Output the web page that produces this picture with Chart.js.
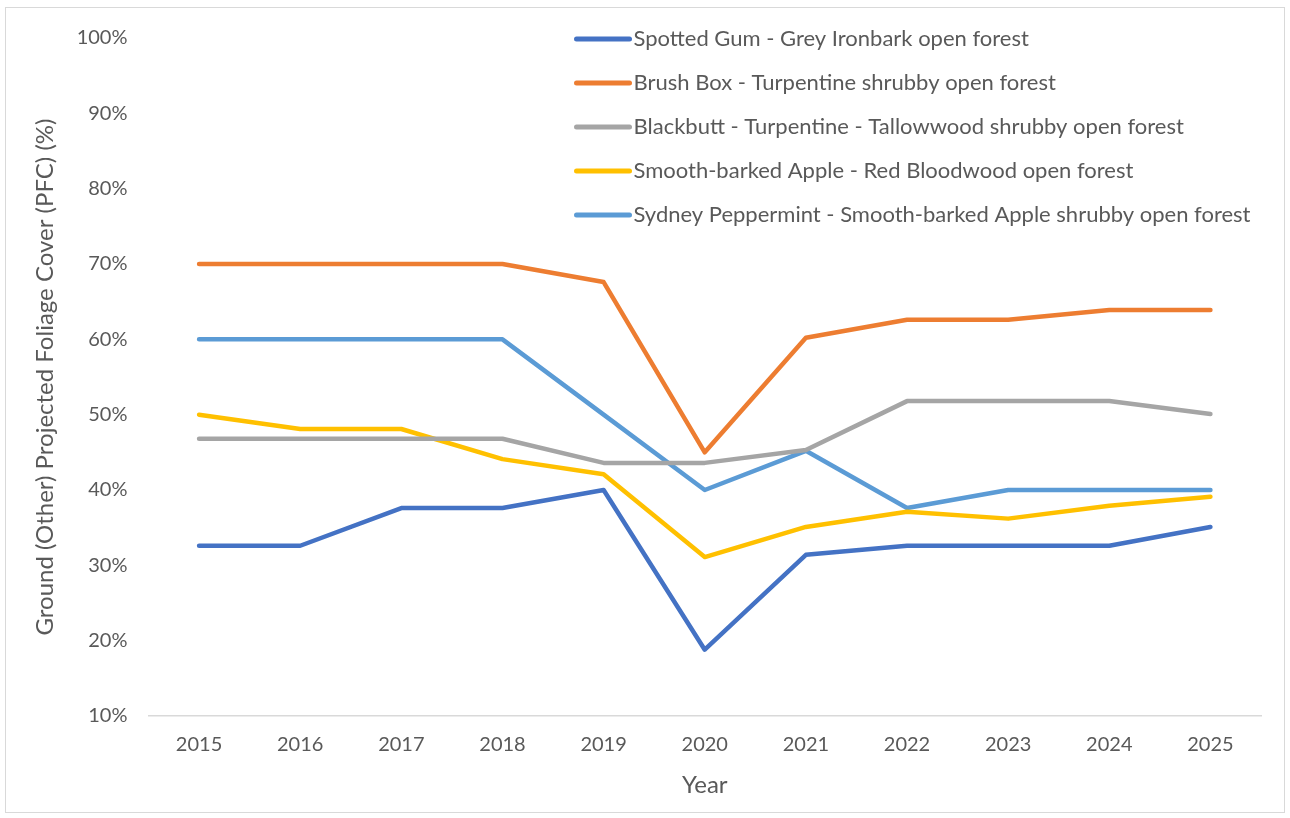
<!DOCTYPE html>
<html>
<head>
<meta charset="utf-8">
<script src="https://cdn.jsdelivr.net/npm/chart.js@4.4.1/dist/chart.umd.min.js"></script>
<style>
  html, body { margin: 0; padding: 0; background: #fff; }
  #wrap { position: relative; width: 1290px; height: 818px; }
  #frame { position: absolute; left: 5px; top: 7px; width: 1278px; height: 804px; border: 1px solid #d9d9d9; pointer-events: none; }
</style>
</head>
<body>
<div id="wrap">
  <canvas id="pfcChart" width="1290" height="818"></canvas>
  <div id="frame"></div>
</div>
<script>
const years = ["2015", "2016", "2017", "2018", "2019", "2020", "2021", "2022", "2023", "2024", "2025"];

const spottedGum = [32.6, 32.6, 37.6, 37.6, 40.0, 18.8, 31.4, 32.6, 32.6, 32.6, 35.1];
const brushBox = [70.0, 70.0, 70.0, 70.0, 67.6, 45.0, 60.2, 62.6, 62.6, 63.9, 63.9];
const blackbutt = [46.8, 46.8, 46.8, 46.8, 43.6, 43.6, 45.3, 51.8, 51.8, 51.8, 50.1];
const smoothBarked = [50.0, 48.1, 48.1, 44.1, 42.1, 31.1, 35.1, 37.1, 36.2, 37.9, 39.1];
const sydneyPeppermint = [60.0, 60.0, 60.0, 60.0, 50.0, 40.0, 45.2, 37.6, 40.0, 40.0, 40.0];

const seriesNames = [
  "Spotted Gum - Grey Ironbark open forest",
  "Brush Box - Turpentine shrubby open forest",
  "Blackbutt - Turpentine - Tallowwood shrubby open forest",
  "Smooth-barked Apple - Red Bloodwood open forest",
  "Sydney Peppermint - Smooth-barked Apple shrubby open forest",
];
const seriesColors = ["#4472C4", "#ED7D31", "#A5A5A5", "#FFC000", "#5B9BD5"];

const fontFamily = "Lato, 'Open Sans', sans-serif";
const textColor = "#595959";

// legend drawn inside the plot area, top right, like the Excel original
const insideLegend = {
  id: "insideLegend",
  afterDraw(chart, args, opts) {
    const { ctx, chartArea } = chart;
    ctx.save();
    ctx.font = opts.fontSize + "px " + fontFamily;
    ctx.fillStyle = textColor;
    ctx.textBaseline = "middle";
    ctx.textAlign = "left";
    ctx.lineCap = "round";
    chart.data.datasets.forEach((ds, i) => {
      const y = chartArea.top + opts.top + i * opts.rowGap;
      const x0 = chartArea.left + opts.left;
      ctx.strokeStyle = ds.borderColor;
      ctx.lineWidth = 5;
      ctx.beginPath();
      ctx.moveTo(x0, y);
      ctx.lineTo(x0 + opts.sampleWidth, y);
      ctx.stroke();
      ctx.fillText(ds.label, x0 + opts.sampleWidth + 4, y);
    });
    ctx.restore();
  },
};

const datasetValues = [spottedGum, brushBox, blackbutt, smoothBarked, sydneyPeppermint];

const config = {
  type: "line",
  data: {
    labels: years,
    datasets: datasetValues.map((vals, i) => ({
      label: seriesNames[i],
      data: vals,
      borderColor: seriesColors[i],
      backgroundColor: seriesColors[i],
      borderWidth: 4.5,
      pointRadius: 0,
      tension: 0,
      fill: false,
      borderJoinStyle: "round",
      borderCapStyle: "round",
    })),
  },
  plugins: [insideLegend],
  options: {
    responsive: false,
    animation: false,
    layout: {
      padding: { left: 31, right: 29, top: 38, bottom: 10 },
    },
    plugins: {
      legend: { display: false },
      tooltip: { enabled: false },
      insideLegend: {
        fontSize: 22,
        top: 1,
        rowGap: 44,
        left: 428,
        sampleWidth: 53,
      },
    },
    scales: {
      x: {
        offset: true,
        grid: { display: false, drawTicks: false, offset: true },
        border: { display: true, color: "#d9d9d9", width: 1.5 },
        ticks: {
          color: textColor,
          font: { family: fontFamily, size: 20 },
          padding: 17,
          maxRotation: 0,
        },
        title: {
          display: true,
          text: "Year",
          color: textColor,
          font: { family: fontFamily, size: 24 },
          padding: { top: 10, bottom: 8 },
        },
        afterFit: (scale) => {
          scale.height = 92;
        },
      },
      y: {
        min: 10,
        max: 100,
        grid: { display: false, drawTicks: false },
        border: { display: false },
        ticks: {
          stepSize: 10,
          color: textColor,
          font: { family: fontFamily, size: 20 },
          padding: 21,
          callback: (v) => v + "%",
        },
        title: {
          display: true,
          text: "Ground (Other) Projected Foliage Cover (PFC) (%)",
          color: textColor,
          font: { family: fontFamily, size: 24 },
          padding: { top: 0, bottom: 0 },
        },
        afterFit: (scale) => {
          scale.width = 117.5;
        },
      },
    },
  },
};

new Chart(document.getElementById("pfcChart"), config);
</script>
</body>
</html>
